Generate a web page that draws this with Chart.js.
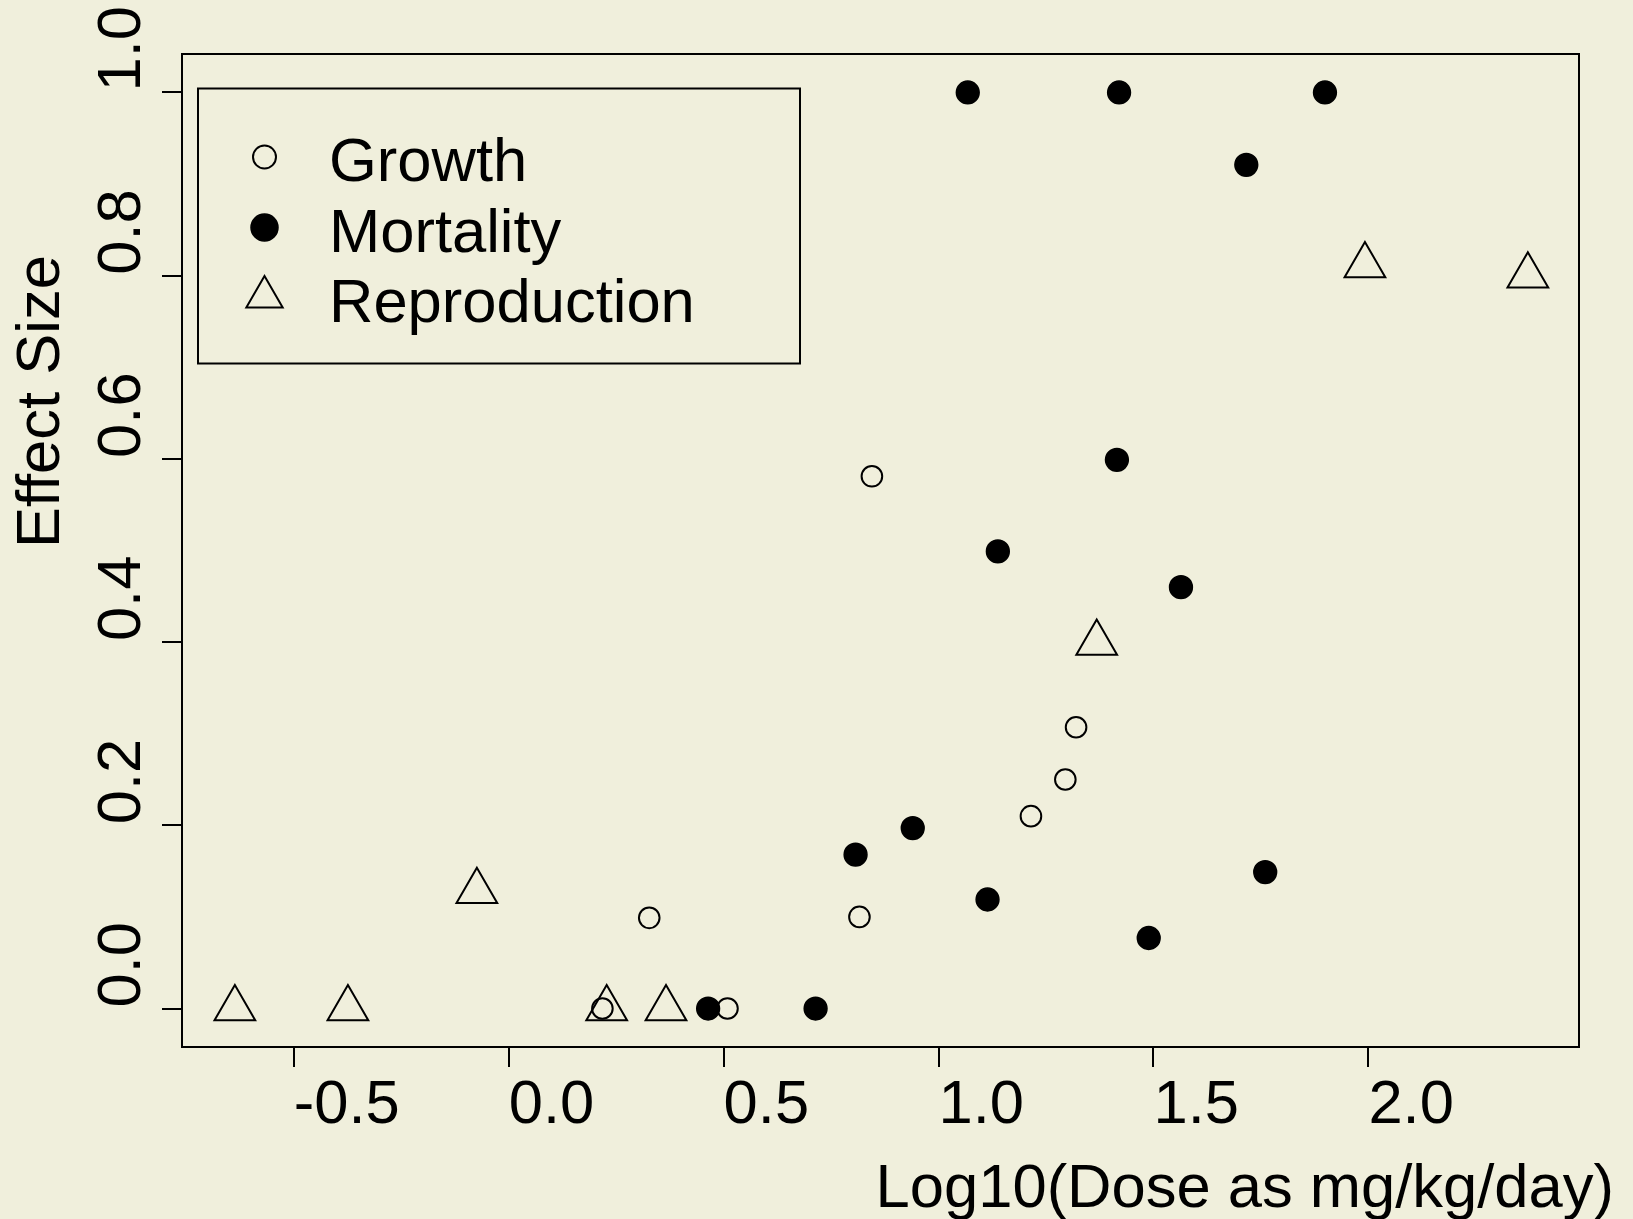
<!DOCTYPE html>
<html>
<head>
<meta charset="utf-8">
<script src="https://cdn.jsdelivr.net/npm/chart.js@4.4.1/dist/chart.umd.min.js"></script>
<style>
  html, body { margin: 0; padding: 0; background: rgb(240,239,220); }
  #wrap { width: 1633px; height: 1219px; }
</style>
</head>
<body>
<div id="wrap"><canvas id="myChart" width="1633" height="1219"></canvas></div>
<script>
// tick labels
var xTickValues = [-0.5, 0.0, 0.5, 1.0, 1.5, 2.0];
var yTickValues = [0.0, 0.2, 0.4, 0.6, 0.8, 1.0];

// Growth (open circles)
var growthDose   = [0.218, 0.327, 0.509, 0.816, 0.845, 1.215, 1.295, 1.320];
var growthEffect = [0.000, 0.099, 0.000, 0.100, 0.581, 0.210, 0.250, 0.307];

// Mortality (filled circles)
var mortalityDose   = [0.464, 0.714, 0.807, 0.940, 1.068, 1.114, 1.138, 1.415, 1.420, 1.489, 1.564, 1.716, 1.760, 1.899];
var mortalityEffect = [0.000, 0.000, 0.168, 0.197, 1.000, 0.119, 0.499, 0.599, 1.000, 0.077, 0.460, 0.921, 0.149, 1.000];

// Reproduction (open triangles)
var reproDose   = [-0.637, -0.374, -0.074, 0.228, 0.366, 1.368, 1.992, 2.371];
var reproEffect = [0.000, 0.000, 0.128, 0.000, 0.000, 0.399, 0.811, 0.800];

var seriesNames = ["Growth", "Mortality", "Reproduction"];
var xTitle = "Log10(Dose as mg/kg/day)";
var yTitle = "Effect Size";

function pts(xs, ys) {
    var out = [];
    for (var i = 0; i < xs.length; i++) out.push({x: xs[i], y: ys[i]});
    return out;
}

var FONT = "'Liberation Sans', Arial, Helvetica, sans-serif";
var FSIZE = 61.5;
Chart.defaults.font.family = FONT;
Chart.defaults.font.size = FSIZE;
Chart.defaults.color = "#000";

// box around plot, rotated y labels, axis titles, legend
var framePlugin = {
    id: "frame",
    afterDraw: function(chart) {
        var ctx = chart.ctx;
        var a = chart.chartArea;
        var ys = chart.scales.y;
        ctx.save();
        ctx.strokeStyle = "#000";
        ctx.lineWidth = 2;
        ctx.strokeRect(a.left, a.top, a.right - a.left, a.bottom - a.top);

        ctx.fillStyle = "#000";
        ctx.font = FSIZE + "px " + FONT;
        ctx.textBaseline = "alphabetic";

        // y tick labels, reading upward from the tick
        yTickValues.forEach(function(v) {
            var py = ys.getPixelForValue(v);
            ctx.save();
            ctx.translate(140, py - 1);
            ctx.rotate(-Math.PI / 2);
            ctx.textAlign = "left";
            ctx.fillText(v.toFixed(1), 0, 0);
            ctx.restore();
        });

        ctx.textAlign = "right";
        ctx.fillText(xTitle, 1614, 1207);

        ctx.save();
        ctx.translate(58.5, 548);
        ctx.rotate(-Math.PI / 2);
        ctx.textAlign = "left";
        ctx.fillText(yTitle, 0, 0);
        ctx.restore();

        // legend
        ctx.strokeRect(198, 88.5, 602, 275);
        var rowsY = [157, 227.5, 297];
        var base = [181, 251.5, 322];
        var radii = [11.5, 13.5, 21];
        chart.data.datasets.forEach(function(ds, i) {
            ctx.fillStyle = ds.backgroundColor;
            ctx.strokeStyle = ds.borderColor;
            ctx.lineWidth = ds.borderWidth;
            Chart.helpers.drawPoint(ctx, {
                pointStyle: ds.pointStyle, rotation: 0,
                radius: radii[i], borderWidth: ds.borderWidth
            }, 264.5, rowsY[i]);
            ctx.fillStyle = "#000";
            ctx.textAlign = "left";
            ctx.fillText(ds.label, 329, base[i]);
        });
        ctx.restore();
    }
};

var ctx = document.getElementById("myChart");
var myChart = new Chart(ctx, {
    type: "scatter",
    data: {
        datasets: [
            {
                label: seriesNames[0],
                data: pts(growthDose, growthEffect),
                pointStyle: "circle",
                pointRadius: 10.3,
                borderWidth: 2,
                borderColor: "#000",
                backgroundColor: "rgba(0,0,0,0)"
            },
            {
                label: seriesNames[1],
                data: pts(mortalityDose, mortalityEffect),
                pointStyle: "circle",
                pointRadius: 11.4,
                borderWidth: 1.5,
                borderColor: "#000",
                backgroundColor: "#000"
            },
            {
                label: seriesNames[2],
                data: pts(reproDose, reproEffect),
                pointStyle: "triangle",
                pointRadius: 23.5,
                borderWidth: 2,
                borderColor: "#000",
                backgroundColor: "rgba(0,0,0,0)"
            }
        ]
    },
    options: {
        responsive: false,
        animation: false,
        layout: { padding: { top: 54, right: 54, left: 0, bottom: 0 } },
        plugins: {
            legend: { display: false },
            tooltip: { enabled: false }
        },
        scales: {
            x: {
                type: "linear",
                position: "bottom",
                min: -0.76,
                max: 2.49,
                afterBuildTicks: function(s) { s.ticks = xTickValues.map(function(v) { return {value: v}; }); },
                afterFit: function(s) { s.height = 172; },
                border: { display: false },
                grid: { display: true, drawOnChartArea: false, drawTicks: true, tickLength: 20,
                        tickColor: "#000", tickWidth: 2, color: "#000", lineWidth: 2 },
                ticks: {
                    padding: 2,
                    maxRotation: 0,
                    align: "start",
                    callback: function(v) { return Number(v).toFixed(1); }
                }
            },
            y: {
                type: "linear",
                position: "left",
                min: -0.042,
                max: 1.042,
                afterBuildTicks: function(s) { s.ticks = yTickValues.map(function(v) { return {value: v}; }); },
                afterFit: function(s) { s.width = 182; },
                border: { display: false },
                grid: { display: true, drawOnChartArea: false, drawTicks: true, tickLength: 20,
                        tickColor: "#000", tickWidth: 2, color: "#000", lineWidth: 2 },
                ticks: { display: false }
            }
        }
    },
    plugins: [framePlugin]
});
</script>
</body>
</html>
